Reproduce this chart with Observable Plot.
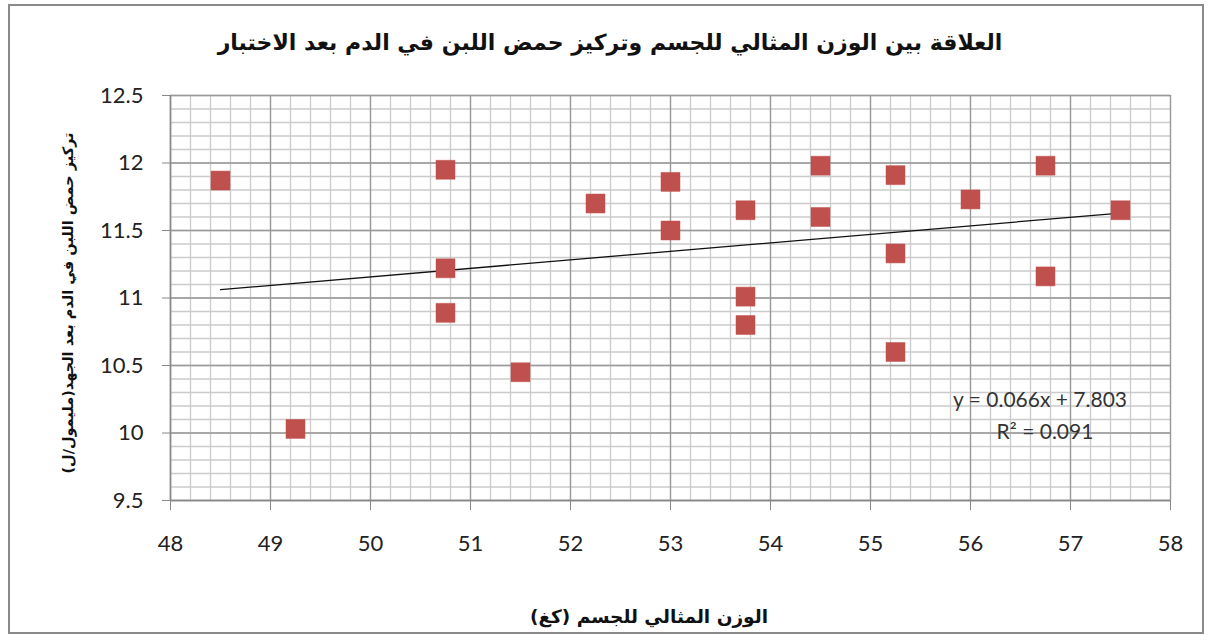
<!DOCTYPE html>
<html>
<head>
<meta charset="utf-8">
<script src="https://cdn.jsdelivr.net/npm/d3@7"></script>
<script src="https://cdn.jsdelivr.net/npm/@observablehq/plot@0.6"></script>
<style>
  body { margin: 0; background: #fff; }
  #wrap { position: relative; width: 1210px; height: 641px; overflow: hidden; background: #fff; }
  #frame { position: absolute; left: 8px; top: 4px; width: 1196px; height: 630px; border: 2px solid #8a8a8a; box-sizing: border-box; }
  #plot { position: absolute; left: 0; top: 0; }
  .ar { position: absolute; font-family: "DejaVu Sans", sans-serif; font-weight: bold; color: #111; direction: rtl; white-space: nowrap; }
  #title { left: 215px; width: 790px; top: 30px; text-align: center; font-size: 22px; }
  #ylab { left: 68px; top: 303px; transform: translate(-50%, -50%) rotate(-90deg); font-size: 14.5px; }
  #xlab { left: 649px; top: 616px; transform: translate(-50%, -50%); font-size: 18.5px; }
  .eq { position: absolute; font-family: Lato, "Open Sans", sans-serif; font-size: 21px; color: #333; white-space: nowrap; transform: translate(-50%, -50%); }
</style>
</head>
<body>
<div id="wrap">
  <div id="frame"></div>
  <div id="plot"></div>
  <div id="title" class="ar"></div>
  <div id="ylab" class="ar"></div>
  <div id="xlab" class="ar"></div>
  <div id="eq1" class="eq" style="left:1040px;top:398px"></div>
  <div id="eq2" class="eq" style="left:1045px;top:430px"></div>
</div>
<script>
// ---- Data ----
const weight = [48.5, 49.25, 50.75, 50.75, 50.75, 51.5, 52.25, 53, 53, 53.75, 53.75, 53.75, 54.5, 54.5, 55.25, 55.25, 55.25, 56, 56.75, 56.75, 57.5];
const lactate = [11.87, 10.03, 11.95, 11.22, 10.89, 10.45, 11.70, 11.86, 11.50, 11.65, 11.01, 10.80, 11.98, 11.60, 11.91, 11.33, 10.60, 11.73, 11.98, 11.16, 11.65];
const xTicks = [48, 49, 50, 51, 52, 53, 54, 55, 56, 57, 58];
const yTicks = [9.5, 10, 10.5, 11, 11.5, 12, 12.5];
const xMinor = d3.range(0, 51).map(i => 48 + i * 0.2);
const yMinor = d3.range(0, 31).map(i => 9.5 + i * 0.1);
const trendSlope = 0.066, trendIntercept = 7.803, rSquared = 0.091;
const titleText = "العلاقة بين الوزن المثالي للجسم وتركيز حمض اللبن في الدم بعد الاختبار";
const xLabel = "الوزن المثالي للجسم (كغ)";
const yLabel = "تركيز حمض اللبن في الدم بعد الجهد(مليمول/ل)";

const data = weight.map((w, i) => ({ x: w, y: lactate[i] }));

document.getElementById("title").textContent = titleText;
document.getElementById("xlab").textContent = xLabel;
document.getElementById("ylab").textContent = yLabel;
document.getElementById("eq1").textContent = `y = ${trendSlope.toFixed(3)}x + ${trendIntercept.toFixed(3)}`;
document.getElementById("eq2").textContent = `R² = ${rSquared.toFixed(3)}`;

const tickFont = { fontFamily: "Lato, 'Open Sans', sans-serif", fontSize: 22 };

const chart = Plot.plot({
  width: 1210,
  height: 641,
  marginLeft: 170,
  marginRight: 40,
  marginTop: 95,
  marginBottom: 141,
  style: { background: "transparent", color: "#222", fontFamily: tickFont.fontFamily },
  x: { domain: [48, 58] },
  y: { domain: [9.5, 12.5] },
  marks: [
    Plot.gridX(xMinor, { stroke: "#cbcbcb", strokeOpacity: 1, strokeWidth: 1.3 }),
    Plot.gridY(yMinor, { stroke: "#cbcbcb", strokeOpacity: 1, strokeWidth: 1.3 }),
    Plot.gridX(xTicks, { stroke: "#999", strokeOpacity: 1, strokeWidth: 1.3 }),
    Plot.gridY(yTicks, { stroke: "#999", strokeOpacity: 1, strokeWidth: 1.3 }),
    Plot.ruleY([9.5], { stroke: "#888", strokeWidth: 1.5 }),
    Plot.ruleX([48], { stroke: "#888", strokeWidth: 1.5 }),
    Plot.axisX(xTicks, { tickSize: 10, tickPadding: 25, fontSize: 22, stroke: "#888", tickFormat: d => String(d), label: null }),
    Plot.axisY(yTicks, { tickSize: 8, tickPadding: 19, fontSize: 22, stroke: "#888", tickFormat: d => String(d), label: null }),
    Plot.linearRegressionY(data, { x: "x", y: "y", stroke: "#111", strokeWidth: 1.3, ci: 0 }),
    Plot.dot(data, { x: "x", y: "y", symbol: "square", r: 10.7, fill: "#C0504D", stroke: "#C0504D", strokeWidth: 0.5 })
  ]
});
document.getElementById("plot").appendChild(chart);
</script>
</body>
</html>
